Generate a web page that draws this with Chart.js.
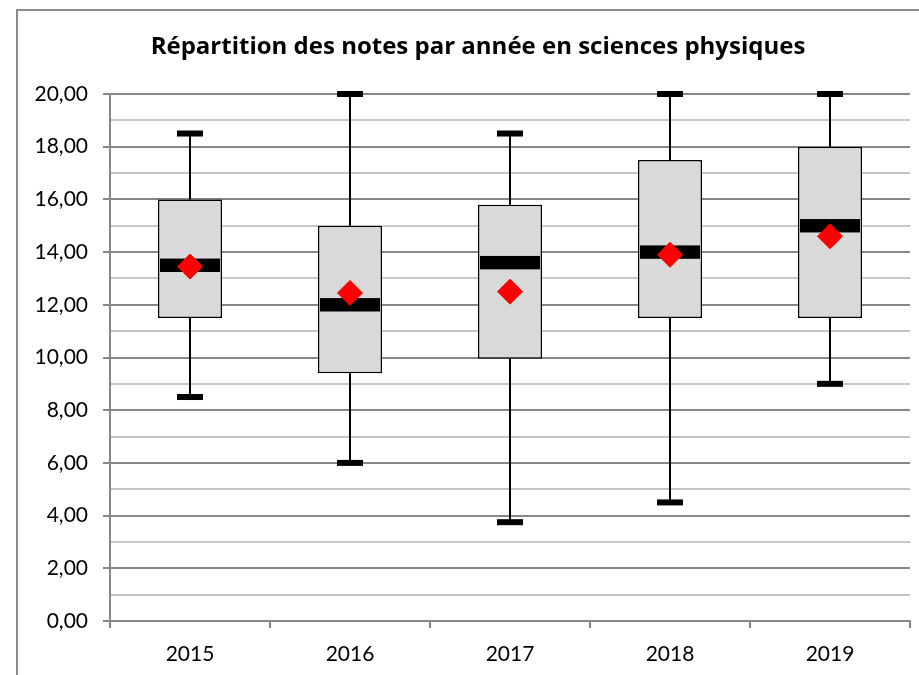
<!DOCTYPE html>
<html>
<head>
<meta charset="utf-8">
<script src="https://cdn.jsdelivr.net/npm/chart.js@4/dist/chart.umd.min.js"></script>
<style>
html,body{margin:0;padding:0;background:#fff;}
#wrap{position:absolute;left:0;top:0;width:919px;height:675px;}
</style>
</head>
<body>
<div id="wrap"><canvas id="c" width="919" height="675"></canvas></div>
<script>
const categories = ['2015', '2016', '2017', '2018', '2019'];
const minValues = [8.5, 6.0, 3.75, 4.5, 9.0];
const q1Values = [11.5, 9.4, 9.95, 11.5, 11.5];
const medianValues = [13.5, 12.0, 13.6, 14.0, 15.0];
const q3Values = [16.0, 15.0, 15.8, 17.5, 18.0];
const maxValues = [18.5, 20.0, 18.5, 20.0, 20.0];
const meanValues = [13.45, 12.45, 12.5, 13.9, 14.6];
const chartTitle = 'Répartition des notes par année en sciences physiques';

const FONT = 'Lato, "Open Sans", sans-serif';
const TITLE_FONT = '"Open Sans", Lato, sans-serif';

const framePlugin = {
  id: 'frame',
  beforeDraw(chart) {
    const ctx = chart.ctx;
    ctx.save();
    ctx.fillStyle = '#fff';
    ctx.fillRect(0, 0, chart.width, chart.height);
    ctx.strokeStyle = '#8c8c8c';
    ctx.lineWidth = 2;
    ctx.beginPath();
    ctx.moveTo(17, chart.height);
    ctx.lineTo(17, 10);
    ctx.lineTo(chart.width, 10);
    ctx.stroke();
    ctx.fillStyle = '#000';
    ctx.font = 'bold 24px ' + TITLE_FONT;
    ctx.textAlign = 'center';
    ctx.textBaseline = 'alphabetic';
    ctx.fillText(chartTitle, 478, 54);
    ctx.restore();
  }
};

const boxPlugin = {
  id: 'boxParts',
  beforeDatasetsDraw(chart) {
    const ctx = chart.ctx;
    const x = chart.scales.x, y = chart.scales.y;
    ctx.save();
    ctx.strokeStyle = '#000';
    ctx.fillStyle = '#000';
    ctx.lineWidth = 2;
    categories.forEach((c, i) => {
      const px = x.getPixelForValue(i);
      const yMin = y.getPixelForValue(minValues[i]);
      const yMax = y.getPixelForValue(maxValues[i]);
      const yQ1 = y.getPixelForValue(q1Values[i]);
      const yQ3 = y.getPixelForValue(q3Values[i]);
      ctx.beginPath();
      ctx.moveTo(px, yQ3); ctx.lineTo(px, yMax);
      ctx.moveTo(px, yQ1); ctx.lineTo(px, yMin);
      ctx.stroke();
      ctx.fillRect(px - 13, yMax - 3, 26, 6);
      ctx.fillRect(px - 13, yMin - 3, 26, 6);
    });
    ctx.restore();
  },
  afterDatasetDraw(chart, args) {
    if (args.index !== 0) return;
    const ctx = chart.ctx;
    const y = chart.scales.y;
    const meta = chart.getDatasetMeta(0);
    ctx.save();
    ctx.fillStyle = '#000';
    meta.data.forEach((bar, i) => {
      const w = bar.width;
      const py = y.getPixelForValue(medianValues[i]);
      ctx.fillRect(bar.x - w / 2 + 2, py - 6.7, w - 4, 13.4);
    });
    ctx.restore();
  }
};

new Chart(document.getElementById('c'), {
  data: {
    labels: categories,
    datasets: [
      {
        type: 'bar',
        label: 'Boîte',
        data: categories.map((c, i) => [q1Values[i], q3Values[i]]),
        backgroundColor: '#d9d9d9',
        borderColor: '#000',
        borderWidth: 1.5,
        borderSkipped: false,
        barPercentage: 0.4,
        categoryPercentage: 1.0,
        order: 1
      },
      {
        type: 'line',
        label: 'Moyenne',
        data: meanValues,
        showLine: false,
        pointStyle: 'rectRot',
        pointRadius: 12.5,
        pointHoverRadius: 12.5,
        pointBackgroundColor: '#ff0000',
        pointBorderColor: '#ff0000',
        pointBorderWidth: 1,
        order: 0
      }
    ]
  },
  options: {
    responsive: false,
    animation: false,
    devicePixelRatio: 1,
    layout: { autoPadding: false, padding: { left: 18, right: 9, top: 94, bottom: 0 } },
    plugins: {
      legend: { display: false },
      tooltip: { enabled: false },
      title: { display: false }
    },
    scales: {
      x: {
        type: 'category',
        offset: true,
        grid: {
          offset: true,
          drawOnChartArea: false,
          tickLength: 7,
          tickColor: '#888888',
          lineWidth: 2
        },
        border: { color: '#868686', width: 2 },
        ticks: {
          color: '#000',
          font: { family: FONT, size: 21 },
          padding: 14
        },
        afterFit(scale) { scale.height = 54; scale.paddingLeft = 0; scale.paddingRight = 0; }
      },
      y: {
        min: 0,
        max: 20,
        ticks: {
          stepSize: 1,
          autoSkip: false,
          color: '#000',
          padding: 15,
          font: { family: FONT, size: 21 },
          callback: (v) => (v % 2 === 0 ? v.toFixed(2).replace('.', ',') : '')
        },
        grid: {
          color: (ctx) => (ctx.tick && ctx.tick.value % 2 === 0 ? '#878787' : '#c6c6c6'),
          tickColor: (ctx) => (ctx.tick && ctx.tick.value % 2 === 0 ? '#878787' : 'rgba(0,0,0,0)'),
          lineWidth: 2,
          tickLength: 7
        },
        border: { color: '#878787', width: 2 },
        afterFit(scale) { scale.width = 92; scale.paddingTop = 0; scale.paddingBottom = 0; }
      }
    }
  },
  plugins: [framePlugin, boxPlugin]
});
</script>
</body>
</html>
